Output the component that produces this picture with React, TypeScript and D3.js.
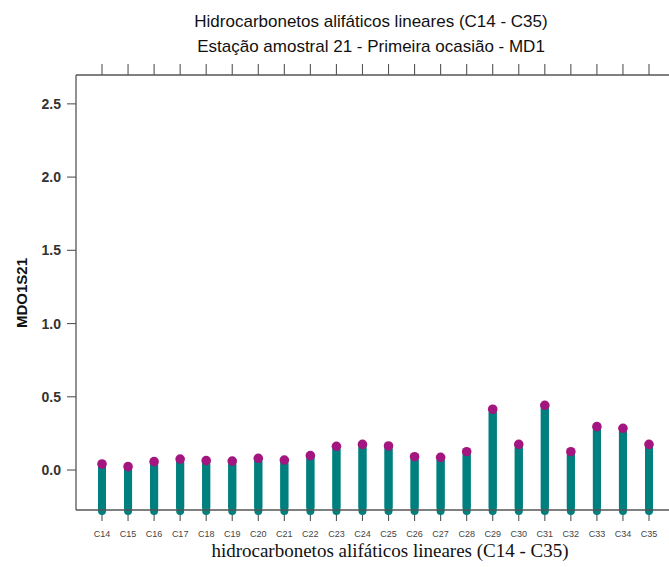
import React from "react";
import * as d3 from "d3";

const categories = ["C14","C15","C16","C17","C18","C19","C20","C21","C22","C23","C24","C25","C26","C27","C28","C29","C30","C31","C32","C33","C34","C35"];
const values = [0.041,0.023,0.057,0.075,0.064,0.061,0.080,0.068,0.098,0.162,0.175,0.164,0.091,0.087,0.125,0.415,0.175,0.442,0.125,0.296,0.285,0.175];
const yTicks = [0.0, 0.5, 1.0, 1.5, 2.0, 2.5];
const title1 = "Hidrocarbonetos alifáticos lineares (C14 - C35)";
const title2 = "Estação amostral 21 - Primeira ocasião - MD1";
const yLabel = "MDO1S21";
const xLabel = "hidrocarbonetos alifáticos lineares (C14 - C35)";

export default function App() {
  const W = 669, H = 567;
  const left = 76, top = 75, bottom = 510, right = 669;
  const y = d3.scaleLinear().domain([-0.273, 2.697]).range([bottom, top]);
  const x = d3.scalePoint<string>().domain(categories).range([102, 649]);
  const axisColor = "#555";
  const sans = "Liberation Sans, Arial, sans-serif";
  return (
    <svg width={W} height={H} style={{ position: "absolute", left: 0, top: 0, background: "#fff" }}>
      <text x={371} y={27} textAnchor="middle" fontFamily={sans} fontSize={17} fill="#111">{title1}</text>
      <text x={371} y={52} textAnchor="middle" fontFamily={sans} fontSize={17} fill="#111">{title2}</text>
      <line x1={left} x2={right} y1={top} y2={top} stroke={axisColor} strokeWidth={1.3} />
      <line x1={left} x2={left} y1={top} y2={bottom} stroke={axisColor} strokeWidth={1.3} />
      {categories.map((c) => (
        <line key={"tt" + c} x1={x(c)} x2={x(c)} y1={top - 11} y2={top} stroke={axisColor} strokeWidth={1.1} />
      ))}
      {yTicks.map((t) => (
        <g key={"yt" + t}>
          <line x1={left - 9} x2={left} y1={y(t)} y2={y(t)} stroke={axisColor} strokeWidth={1.1} />
          <text x={61} y={y(t) + 5} textAnchor="end" fontFamily={sans} fontSize={14} fontWeight="bold" fill="#333">{t.toFixed(1)}</text>
        </g>
      ))}
      <text transform={`translate(27,293) rotate(-90)`} textAnchor="middle" fontFamily={sans} fontSize={15} fontWeight="bold" fill="#111">{yLabel}</text>
      {categories.map((c, i) => {
        const cx = x(c)!;
        const yv = y(values[i]);
        return (
          <g key={"b" + c}>
            <line x1={cx} x2={cx} y1={bottom + 3} y2={bottom + 11} stroke={axisColor} strokeWidth={1.1} />
            <rect x={cx - 4} y={yv} width={8} height={bottom + 5 - yv} rx={4} fill="#007f7f" />
            <rect x={cx - 4} y={yv} width={8} height={Math.max(0, bottom - yv - 2)} fill="#007f7f" />
            <circle cx={cx} cy={yv} r={4.8} fill="#a3157f" />
            <text x={cx} y={536.5} textAnchor="middle" fontFamily={sans} fontSize={9} fill="#444">{c}</text>
          </g>
        );
      })}
      <line x1={left} x2={right} y1={bottom} y2={bottom} stroke={axisColor} strokeWidth={1.4} />
      <text x={390} y={557} textAnchor="middle" fontFamily="Liberation Serif, Times New Roman, serif" fontSize={19} fill="#111">{xLabel}</text>
    </svg>
  );
}
